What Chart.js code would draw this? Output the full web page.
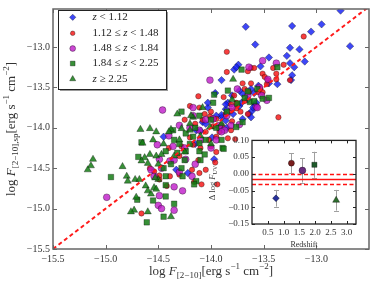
<!DOCTYPE html>
<html>
<head>
<meta charset="utf-8">
<script src="https://cdn.jsdelivr.net/npm/chart.js@4.4.0/dist/chart.umd.min.js"></script>
<style>
  html, body { margin: 0; padding: 0; background: #fff; }
  #wrap { position: relative; width: 374px; height: 286px; }
  #main { position: absolute; left: 0; top: 0; }
  #inset { position: absolute; left: 200px; top: 132px; }
</style>
</head>
<body>
<div id="wrap">
  <canvas id="main" width="374" height="286"></canvas>
  <canvas id="inset" width="170" height="120"></canvas>
</div>
<script>
// log F[2-10] (x) vs log F[2-10],sp (y), one list per redshift bin
var zBin1 = [[-12.77,-12.55],[-13.23,-12.74],[-12.95,-12.72],[-13.05,-12.81],[-13.67,-12.75],[-13.58,-12.97],[-13.25,-13.01],[-13.16,-13.03],[-12.68,-12.99],[-13.45,-13.13],[-13.28,-13.11],[-13.11,-13.18],[-13.25,-13.20],[-13.21,-13.25],[-13.53,-13.24],[-13.23,-13.35],[-13.37,-13.46],[-13.24,-13.41],[-13.55,-13.48],[-13.62,-13.52],[-13.59,-13.57],[-13.58,-13.72],[-13.61,-13.79],[-13.64,-13.83],[-13.74,-13.22],[-13.78,-13.28],[-13.76,-13.25],[-13.90,-13.41],[-13.96,-13.57],[-13.70,-13.58],[-13.73,-13.54],[-13.84,-13.69],[-13.86,-13.77],[-13.60,-13.75],[-13.57,-13.69],[-13.62,-13.87],[-13.79,-13.83],[-13.70,-13.89],[-13.86,-13.91],[-13.90,-13.87],[-14.03,-13.75],[-13.45,-13.45],[-14.45,-14.11],[-14.14,-14.03],[-13.97,-14.39],[-14.03,-13.69],[-13.86,-13.71],[-13.73,-13.73],[-14.22,-14.56],[-14.33,-14.52],[-14.10,-14.04],[-13.99,-14.12],[-14.08,-13.93],[-13.90,-13.84],[-13.71,-13.69],[-14.05,-13.95],[-13.95,-13.85],[-13.80,-13.60],[-14.15,-14.20],[-13.85,-14.00],[-13.65,-13.65]];
var zBin2 = [[-13.12,-12.87],[-13.31,-13.22],[-13.41,-13.26],[-13.62,-13.26],[-13.59,-13.26],[-13.51,-13.33],[-13.38,-13.33],[-13.38,-13.40],[-13.25,-13.41],[-13.46,-13.41],[-13.53,-13.52],[-13.51,-13.56],[-13.55,-13.56],[-13.62,-13.45],[-13.36,-13.87],[-13.47,-13.46],[-13.85,-13.06],[-13.85,-13.31],[-14.12,-13.61],[-13.65,-13.30],[-13.49,-13.37],[-13.68,-13.52],[-13.64,-13.56],[-13.76,-13.69],[-13.68,-13.67],[-13.81,-13.71],[-13.86,-13.83],[-13.95,-13.89],[-14.01,-13.86],[-14.08,-13.90],[-13.90,-13.97],[-13.81,-14.03],[-13.65,-13.83],[-13.76,-13.76],[-14.20,-13.73],[-14.11,-13.75],[-14.06,-13.83],[-13.81,-13.79],[-13.84,-14.13],[-13.95,-14.11],[-14.00,-14.23],[-14.17,-14.21],[-14.28,-14.23],[-14.39,-14.60],[-14.49,-14.64],[-14.30,-14.58],[-14.11,-14.56],[-14.05,-14.52],[-13.94,-14.70],[-14.58,-14.50],[-14.54,-14.54],[-14.49,-14.59],[-14.66,-15.06],[-14.16,-14.67],[-14.09,-14.70],[-14.42,-14.72],[-14.18,-14.52],[-13.96,-14.43],[-13.77,-14.14],[-14.25,-13.90],[-14.15,-13.95],[-14.05,-14.05],[-13.98,-13.98],[-14.02,-14.15],[-13.92,-14.05],[-14.10,-14.25],[-14.20,-14.12],[-14.30,-14.35],[-13.80,-13.92],[-13.72,-13.80],[-13.88,-13.62],[-14.00,-13.80],[-14.12,-14.40],[-14.40,-14.25],[-13.95,-14.30],[-13.78,-13.60],[-13.70,-13.45]];
var zBin3 = [[-13.51,-13.17],[-13.38,-13.20],[-13.46,-13.40],[-13.54,-13.50],[-13.47,-13.66],[-13.57,-13.74],[-14.01,-13.41],[-13.64,-13.25],[-13.75,-13.52],[-13.56,-13.75],[-14.17,-13.75],[-13.98,-13.89],[-13.81,-13.97],[-13.73,-13.96],[-13.92,-14.00],[-13.52,-13.60],[-14.46,-13.78],[-14.30,-13.97],[-14.17,-13.85],[-13.92,-13.97],[-13.87,-14.03],[-14.47,-14.50],[-14.39,-14.41],[-14.24,-14.39],[-14.18,-14.60],[-14.54,-14.60],[-14.36,-14.23],[-14.11,-14.03],[-14.99,-14.86],[-14.51,-14.21],[-14.49,-14.39],[-14.57,-14.52],[-14.49,-14.84],[-14.50,-14.96],[-14.47,-15.00],[-14.35,-15.02],[-14.27,-14.78],[-14.35,-14.73],[-14.20,-14.00],[-14.05,-13.90],[-13.95,-14.15],[-14.10,-14.15],[-14.25,-14.25],[-14.35,-14.40],[-13.85,-13.85],[-13.80,-13.75],[-14.00,-14.25],[-14.15,-14.45],[-14.30,-14.55],[-13.65,-13.60],[-13.90,-14.05],[-14.40,-14.10]];
var zBin4 = [[-13.37,-13.25],[-13.56,-13.52],[-13.51,-13.64],[-13.63,-13.68],[-13.71,-13.28],[-13.84,-13.54],[-13.97,-13.59],[-13.98,-13.69],[-13.76,-13.99],[-13.70,-13.93],[-13.59,-13.67],[-13.45,-13.63],[-13.68,-13.63],[-14.11,-13.85],[-14.28,-13.80],[-14.36,-14.03],[-14.24,-14.07],[-14.43,-14.29],[-14.32,-14.31],[-14.24,-14.29],[-14.11,-14.29],[-14.06,-14.33],[-13.89,-14.25],[-14.11,-14.19],[-14.28,-14.50],[-14.43,-14.60],[-14.14,-14.66],[-14.27,-14.60],[-14.17,-14.11],[-14.35,-14.15],[-14.95,-14.61],[-14.69,-14.36],[-14.66,-14.18],[-14.43,-14.85],[-14.45,-15.10],[-14.61,-15.17],[-14.70,-14.89],[-14.55,-14.90],[-14.43,-14.71],[-14.35,-14.94],[-14.16,-14.70],[-13.88,-14.26],[-14.15,-14.00],[-14.05,-14.15],[-13.95,-14.00],[-14.20,-14.20],[-14.30,-14.20],[-14.00,-13.90],[-13.85,-13.80],[-13.75,-13.70],[-14.10,-14.40],[-14.25,-14.40],[-14.38,-14.45],[-13.90,-14.15],[-13.65,-13.55],[-14.45,-14.50]];
var zBin5 = [[-13.79,-13.40],[-14.08,-13.75],[-14.17,-13.87],[-14.01,-13.99],[-14.20,-14.03],[-14.58,-14.01],[-14.52,-14.05],[-14.52,-14.35],[-15.12,-14.39],[-15.14,-14.47],[-15.17,-14.52],[-14.84,-14.48],[-14.80,-14.60],[-14.79,-14.66],[-14.72,-14.64],[-14.68,-14.64],[-14.63,-14.37],[-14.58,-14.33],[-14.60,-14.44],[-14.65,-14.19],[-14.66,-14.41],[-14.55,-14.15],[-14.62,-14.72],[-14.60,-14.78],[-14.57,-14.82],[-14.71,-14.86],[-14.73,-15.02],[-14.60,-15.04],[-14.50,-14.64],[-14.54,-14.74],[-14.47,-14.33],[-14.32,-13.83],[-14.19,-13.85],[-14.76,-15.04],[-14.38,-15.10],[-14.52,-14.76],[-14.53,-14.62],[-14.67,-14.02],[-14.38,-14.02],[-14.28,-14.01],[-14.40,-14.05],[-14.30,-14.15],[-14.20,-13.95],[-14.10,-14.10],[-14.45,-14.20],[-14.00,-14.20],[-13.90,-13.95],[-14.35,-14.35],[-14.50,-14.45],[-14.25,-14.30],[-13.80,-13.65]];

var binLabels = [
  [{t:"z",it:1},{t:" < 1.12"}],
  [{t:"1.12 ≤ "},{t:"z",it:1},{t:" < 1.48"}],
  [{t:"1.48 ≤ "},{t:"z",it:1},{t:" < 1.84"}],
  [{t:"1.84 ≤ "},{t:"z",it:1},{t:" < 2.25"}],
  [{t:"z",it:1},{t:" ≥ 2.25"}]
];
var binColors = ["rgba(20,30,245,0.82)","rgba(245,20,20,0.82)","rgba(190,20,200,0.78)","rgba(20,125,20,0.85)","rgba(20,125,20,0.85)"];
var binStyles = ["rectRot","circle","circle","rect","triangle"];
var binSizes = [3.7,2.7,3.4,3.9,4.1];

var oneToOne = [-15.5, -12.5];
var xTicks = [-15.5,-15.0,-14.5,-14.0,-13.5,-13.0];
var yTicks = [-15.5,-15.0,-14.5,-14.0,-13.5,-13.0];

// inset: mean offset per redshift bin
var insetZ = [0.76, 1.25, 1.60, 1.98, 2.67];
var insetDelta = [-0.073, 0.032, 0.010, 0.027, -0.079];
var insetErr = [0.025, 0.030, 0.036, 0.039, 0.031];
var insetColors = ["#26309a","#7a1e1e","#6a2c80","#1e5a2a","#2e6e2e"];
var meanOffset = -0.017, meanOffsetErr = 0.015;
var insetXTicks = [0.5,1.0,1.5,2.0,2.5,3.0];
var insetYTicks = [-0.15,-0.10,-0.05,0.00,0.05,0.10];

var SERIF = '"Liberation Serif", "Times New Roman", serif';

function fmt(v, d) {
  var s = v.toFixed(d);
  if (Math.abs(v) < 1e-9) s = (0).toFixed(d);
  return s.replace("-", "\u2212");
}

function fontOf(s, size) {
  var sz = (s.sub || s.sup) ? Math.round(size * 0.72) : size;
  return (s.it ? "italic " : "") + sz + "px " + SERIF;
}

// text with italics, sub- and superscripts; align "center" or "left"
function drawRich(ctx, segs, x, y, size, align) {
  ctx.textBaseline = "middle";
  ctx.textAlign = "left";
  var w = 0;
  segs.forEach(function (s) { ctx.font = fontOf(s, size); w += ctx.measureText(s.t).width; });
  var cx = align === "left" ? x : x - w / 2;
  segs.forEach(function (s) {
    ctx.font = fontOf(s, size);
    var dy = s.sub ? size * 0.3 : (s.sup ? -size * 0.38 : 0);
    ctx.fillText(s.t, cx, y + dy);
    cx += ctx.measureText(s.t).width;
  });
}

function drawMarker(ctx, style, x, y, r, fill) {
  ctx.beginPath();
  if (style === "circle") {
    ctx.arc(x, y, r, 0, Math.PI * 2);
  } else if (style === "rectRot") {
    ctx.moveTo(x, y - r); ctx.lineTo(x + r, y); ctx.lineTo(x, y + r); ctx.lineTo(x - r, y); ctx.closePath();
  } else if (style === "rect") {
    var s = r * Math.SQRT1_2;
    ctx.rect(x - s, y - s, 2 * s, 2 * s);
  } else {
    var h = r * Math.sqrt(3) / 2;
    ctx.moveTo(x, y - r); ctx.lineTo(x + h, y + r / 2); ctx.lineTo(x - h, y + r / 2); ctx.closePath();
  }
  ctx.fillStyle = fill;
  ctx.fill();
  ctx.lineWidth = 0.5;
  ctx.strokeStyle = "rgba(0,0,0,0.7)";
  ctx.stroke();
}

function frameAndTicks(chart, len, frameColor, frameWidth) {
  var ctx = chart.ctx, a = chart.chartArea, sx = chart.scales.x, sy = chart.scales.y;
  ctx.save();
  ctx.strokeStyle = frameColor;
  ctx.lineWidth = 1;
  ctx.beginPath();
  sx.ticks.forEach(function (t) {
    var p = Math.round(sx.getPixelForValue(t.value)) + 0.5;
    ctx.moveTo(p, a.bottom); ctx.lineTo(p, a.bottom - len);
    ctx.moveTo(p, a.top); ctx.lineTo(p, a.top + len);
  });
  sy.ticks.forEach(function (t) {
    var p = Math.round(sy.getPixelForValue(t.value)) + 0.5;
    ctx.moveTo(a.left, p); ctx.lineTo(a.left + len, p);
    ctx.moveTo(a.right, p); ctx.lineTo(a.right - len, p);
  });
  ctx.stroke();
  ctx.lineWidth = frameWidth;
  ctx.strokeRect(a.left, a.top, a.right - a.left, a.bottom - a.top);
  ctx.restore();
}

function toPoints(list) {
  return list.map(function (p) { return { x: p[0], y: p[1] }; });
}

var bins = [zBin1, zBin2, zBin3, zBin4, zBin5];
var mainSets = [{
  data: oneToOne.map(function (v) { return { x: v, y: v }; }),
  showLine: true,
  borderColor: "#ff1a1a",
  borderWidth: 2,
  borderDash: [4, 3],
  pointRadius: 0
}];
// later bins on top (chart.js draws dataset 0 last)
for (var i = bins.length - 1; i >= 0; i--) {
  mainSets.push({
    data: toPoints(bins[i]),
    pointStyle: binStyles[i],
    pointRadius: binSizes[i],
    backgroundColor: binColors[i],
    borderColor: "rgba(0,0,0,0.65)",
    borderWidth: 0.5
  });
}

var mainDecor = {
  id: "mainDecor",
  afterDraw: function (chart) {
    var ctx = chart.ctx, a = chart.chartArea;
    frameAndTicks(chart, 4, "#666", 1.5);
    ctx.save();
    // legend box
    var lx = 58, ly = 10, lw = 108, lh = 79;
    ctx.fillStyle = "#9a9a9a";
    ctx.fillRect(lx + 2, ly + 2, lw, lh);
    ctx.fillStyle = "#fff";
    ctx.fillRect(lx, ly, lw, lh);
    ctx.strokeStyle = "#222";
    ctx.lineWidth = 1;
    ctx.strokeRect(lx + 0.5, ly + 0.5, lw, lh);
    var rows = [17.3, 33.3, 48.5, 63.5, 79];
    for (var k = 0; k < 5; k++) {
      drawMarker(ctx, binStyles[k], 72.7, rows[k], binSizes[k] * 0.85, binColors[k]);
      ctx.fillStyle = "#222";
      drawRich(ctx, binLabels[k], 92.5, rows[k], 11, "left");
    }
    // axis titles
    ctx.fillStyle = "#333";
    drawRich(ctx, [{t:"log "},{t:"F",it:1},{t:"[2\u221210]",sub:1},{t:"[erg s"},{t:"\u22121",sup:1},{t:" cm"},{t:"\u22122",sup:1},{t:"]"}],
      (a.left + a.right) / 2, 272, 13, "center");
    ctx.translate(12, (a.top + a.bottom) / 2);
    ctx.rotate(-Math.PI / 2);
    drawRich(ctx, [{t:"log "},{t:"F",it:1},{t:"[2\u221210],sp",sub:1},{t:"[erg s"},{t:"\u22121",sup:1},{t:" cm"},{t:"\u22122",sup:1},{t:"]"}],
      0, 0, 13, "center");
    ctx.restore();
  }
};

new Chart(document.getElementById("main").getContext("2d"), {
  type: "scatter",
  data: { datasets: mainSets },
  options: {
    responsive: false,
    animation: false,
    devicePixelRatio: 1,
    layout: { padding: { top: 5, right: 5, left: 0, bottom: 0 } },
    plugins: { legend: { display: false }, tooltip: { enabled: false } },
    scales: {
      x: {
        type: "linear", min: -15.5, max: -12.5,
        afterBuildTicks: function (s) { s.ticks = xTicks.map(function (v) { return { value: v }; }); },
        afterFit: function (s) { s.height = 37; },
        grid: { display: false, drawTicks: false },
        border: { display: false },
        ticks: { autoSkip: false, maxRotation: 0, padding: 4, color: "#333",
          font: { family: SERIF, size: 10 }, callback: function (v) { return fmt(v, 1); } }
      },
      y: {
        type: "linear", min: -15.5, max: -12.53,
        afterBuildTicks: function (s) { s.ticks = yTicks.map(function (v) { return { value: v }; }); },
        afterFit: function (s) { s.width = 53; },
        grid: { display: false, drawTicks: false },
        border: { display: false },
        ticks: { autoSkip: false, padding: 3, color: "#333",
          font: { family: SERIF, size: 10 }, callback: function (v) { return fmt(v, 1); } }
      }
    }
  },
  plugins: [mainDecor]
});

// ---- inset ----
var insetDecor = {
  id: "insetDecor",
  beforeDraw: function (chart) {
    var ctx = chart.ctx, a = chart.chartArea;
    ctx.save();
    ctx.fillStyle = "#fff";
    ctx.fillRect(a.left, a.top, a.right - a.left, a.bottom - a.top);
    ctx.restore();
  },
  beforeDatasetsDraw: function (chart) {
    var ctx = chart.ctx, sx = chart.scales.x, sy = chart.scales.y;
    ctx.save();
    ctx.strokeStyle = "#a0a0a0";
    ctx.lineWidth = 1;
    ctx.beginPath();
    for (var k = 0; k < insetZ.length; k++) {
      var px = Math.round(sx.getPixelForValue(insetZ[k])) + 0.5;
      var y1 = sy.getPixelForValue(insetDelta[k] + insetErr[k]);
      var y2 = sy.getPixelForValue(insetDelta[k] - insetErr[k]);
      ctx.moveTo(px, y1); ctx.lineTo(px, y2);
      ctx.moveTo(px - 2.5, Math.round(y1) + 0.5); ctx.lineTo(px + 2.5, Math.round(y1) + 0.5);
      ctx.moveTo(px - 2.5, Math.round(y2) + 0.5); ctx.lineTo(px + 2.5, Math.round(y2) + 0.5);
    }
    ctx.stroke();
    ctx.restore();
  },
  afterDraw: function (chart) {
    var ctx = chart.ctx, a = chart.chartArea;
    frameAndTicks(chart, 3, "#222", 1.3);
    ctx.save();
    ctx.fillStyle = "#333";
    drawRich(ctx, [{t:"Redshift"}], (a.left + a.right) / 2, 113, 8, "center");
    ctx.translate(13, 51);
    ctx.rotate(-Math.PI / 2);
    drawRich(ctx, [{t:"\u0394 log "},{t:"F",it:1},{t:"UV",sub:1}], 0, 0, 8.5, "center");
    ctx.restore();
  }
};

function hline(v, dash, width) {
  return {
    data: [{ x: 0, y: v }, { x: 3.3, y: v }],
    showLine: true, borderColor: "#ff1010", borderWidth: width,
    borderDash: dash, pointRadius: 0
  };
}

new Chart(document.getElementById("inset").getContext("2d"), {
  type: "scatter",
  data: {
    datasets: [
      {
        data: insetZ.map(function (z, k) { return { x: z, y: insetDelta[k] }; }),
        pointStyle: binStyles,
        pointRadius: [3.4, 3.0, 3.4, 3.6, 4.0],
        backgroundColor: insetColors,
        borderColor: "rgba(0,0,0,0.7)",
        borderWidth: 0.5
      },
      hline(meanOffset, [], 1.5),
      hline(meanOffset + meanOffsetErr, [4, 2.5], 1.5),
      hline(meanOffset - meanOffsetErr, [4, 2.5], 1.5)
    ]
  },
  options: {
    responsive: false,
    animation: false,
    devicePixelRatio: 1,
    layout: { padding: { top: 8, right: 14, left: 0, bottom: 0 } },
    plugins: { legend: { display: false }, tooltip: { enabled: false } },
    scales: {
      x: {
        type: "linear", min: 0, max: 3.3,
        afterBuildTicks: function (s) { s.ticks = insetXTicks.map(function (v) { return { value: v }; }); },
        afterFit: function (s) { s.height = 28; },
        grid: { display: false, drawTicks: false },
        border: { display: false },
        ticks: { autoSkip: false, maxRotation: 0, padding: 3, color: "#333",
          font: { family: SERIF, size: 9 }, callback: function (v) { return fmt(v, 1); } }
      },
      y: {
        type: "linear", min: -0.15, max: 0.10,
        afterBuildTicks: function (s) { s.ticks = insetYTicks.map(function (v) { return { value: v }; }); },
        afterFit: function (s) { s.width = 52; },
        grid: { display: false, drawTicks: false },
        border: { display: false },
        ticks: { autoSkip: false, padding: 3, color: "#333",
          font: { family: SERIF, size: 9 }, callback: function (v) { return fmt(v, 2); } }
      }
    }
  },
  plugins: [insetDecor]
});
</script>
</body>
</html>
